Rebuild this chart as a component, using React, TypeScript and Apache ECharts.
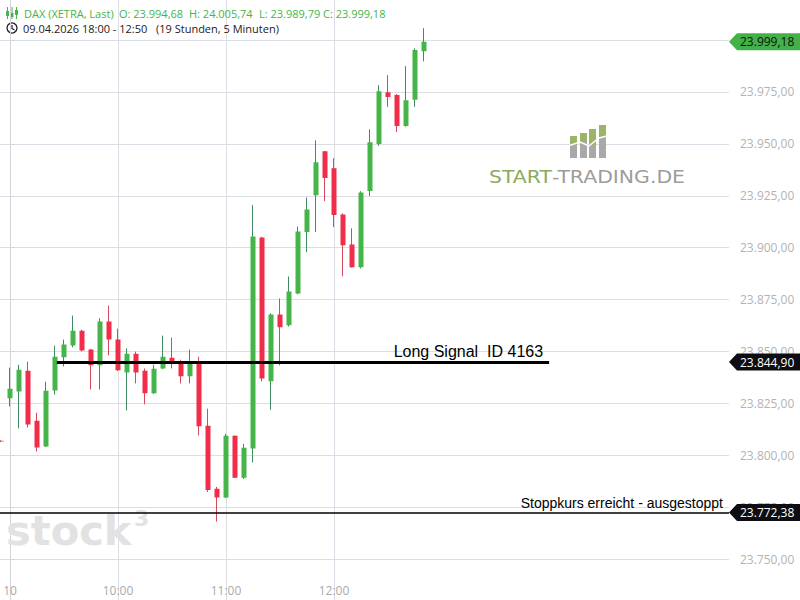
import React, { useEffect, useRef } from 'react';
import * as echarts from 'echarts';

// 5-minute candles; the first one is the previous session's last candle
const times = ['21:55',
  '09:00','09:05','09:10','09:15','09:20','09:25','09:30','09:35','09:40','09:45','09:50','09:55',
  '10:00','10:05','10:10','10:15','10:20','10:25','10:30','10:35','10:40','10:45','10:50','10:55',
  '11:00','11:05','11:10','11:15','11:20','11:25','11:30','11:35','11:40','11:45','11:50','11:55',
  '12:00','12:05','12:10','12:15','12:20','12:25','12:30','12:35','12:40','12:45','12:50'];

const openV = [23807.0,
  23827.4,23830.7,23840.7,23816.6,23804.2,23831.2,23847.2,23852.9,23860.0,23850.9,23843.3,23864.4,
  23855.7,23839.9,23848.9,23840.7,23829.8,23841.8,23847.0,23844.7,23838.0,23844.4,23814.2,23783.8,
  23779.6,23809.4,23789.2,23803.2,23904.9,23835.6,23867.8,23862.6,23877.9,23907.5,23925.3,23946.4,
  23938.2,23916.0,23901.5,23890.6,23927.3,23950.0,23974.9,23973.5,23958.6,23971.2,23994.68];
const closeV = [23806.6,
  23832.0,23841.2,23814.8,23803.7,23831.1,23847.5,23853.3,23860.0,23850.5,23843.3,23864.4,23855.8,
  23840.9,23848.9,23839.9,23829.8,23841.7,23847.5,23844.7,23838.0,23844.4,23813.9,23783.3,23779.6,
  23809.4,23789.2,23803.6,23905.4,23837.0,23867.8,23861.6,23878.9,23907.8,23918.4,23941.1,23933.5,
  23915.7,23901.2,23890.6,23926.6,23950.8,23975.4,23972.6,23958.6,23971.0,23995.2,23999.18];
const lowV = [23806.4,
  23823.5,23812.9,23813.4,23801.8,23804.0,23829.2,23842.8,23852.0,23850.0,23831.7,23831.7,23848.1,
  23840.5,23821.6,23834.6,23824.5,23829.5,23841.5,23841.8,23834.6,23834.6,23809.5,23782.3,23768.0,
  23779.4,23789.0,23788.6,23796.5,23835.6,23821.9,23843.3,23862.0,23877.5,23897.8,23907.5,23922.4,
  23909.9,23886.2,23890.4,23890.0,23924.9,23949.0,23967.8,23955.7,23958.3,23967.8,23989.79];
const highV = [23807.2,
  23842.2,23843.6,23845.1,23820.5,23835.4,23852.8,23855.7,23867.3,23860.5,23851.2,23866.0,23872.1,
  23861.0,23851.4,23849.9,23841.8,23843.6,23857.6,23856.7,23846.0,23850.9,23847.5,23822.4,23784.7,
  23810.3,23809.6,23805.5,23920.5,23905.2,23868.4,23875.5,23886.1,23910.2,23924.2,23951.7,23946.6,
  23943.1,23916.5,23909.3,23927.2,23957.0,23978.3,23983.1,23974.0,23987.5,23996.0,24005.74];

// x-axis tick positions (slot index, 09:00 = 0) and their labels
const xTickIdx = [0, 12, 24, 36];
const xTickLabels = ['10', '10:00', '11:00', '12:00'];
// y-axis labels that are shown (the others fall outside the view or under the price tag)
const yLabelMin = 23750;
const yLabelMax = 23975;

// annotations
const signalPrice = 23844.90;
const signalFromIdx = 5.2;
const signalToIdx = 59.9;
const signalText = 'Long Signal  ID 4163';
const stopPrice = 23772.38;
const stopText = 'Stoppkurs erreicht - ausgestoppt';

const headerName = 'DAX (XETRA, Last)';
const headerRange = '09.04.2026 18:00 - 12:50';
const headerSpan = '(19 Stunden, 5 Minuten)';

const fmt = (v: number) => {
  const s = v.toFixed(2);
  const [i, d] = s.split('.');
  return i.replace(/\B(?=(\d{3})+(?!\d))/g, '.') + ',' + d;
};

const GREEN = '#45b549';
const RED = '#f12d4a';
const GREEN_WICK = '#3e8b64';
const RED_WICK = '#d34a5c';
const GRID = '#dddde6';
const FONT = 'Open Sans';

export default function App() {
  const ref = useRef<HTMLDivElement>(null);
  useEffect(() => {
    if (!ref.current) return;
    const chart = echarts.init(ref.current, null, { renderer: 'svg' });
    const data = times.map((t, i) => [i - 1, openV[i], closeV[i], lowV[i], highV[i]]);
    const option: any = {
      animation: false,
      grid: { left: 0, right: 71, top: -11.8, height: 622.7, containLabel: false, outerBoundsMode: 'none' },
      xAxis: {
        type: 'value',
        min: -1.111,
        max: 79.889,
        axisLine: { show: false },
        axisTick: { show: false, customValues: xTickIdx },
        splitLine: { show: true, lineStyle: { color: GRID, width: 1 } },
        axisLabel: {
          customValues: xTickIdx,
          inside: true,
          margin: 14,
          color: '#a9a9a9',
          fontSize: 12,
          fontFamily: FONT,
          formatter: (v: number) => {
            const k = xTickIdx.indexOf(Math.round(v));
            return k >= 0 ? xTickLabels[k] : '';
          },
        },
      },
      yAxis: {
        type: 'value',
        position: 'right',
        min: 23725,
        max: 24025,
        interval: 25,
        axisLine: { show: true, lineStyle: { color: '#d4d4dc' } },
        axisTick: { show: true, length: 5, lineStyle: { color: '#d4d4dc' } },
        splitLine: { show: true, lineStyle: { color: GRID, width: 1 } },
        axisLabel: {
          margin: 11,
          color: '#b3b3b3',
          fontSize: 12,
          fontFamily: FONT,
          formatter: (v: number) => (v >= yLabelMin && v <= yLabelMax ? fmt(v) : ''),
        },
      },
      series: [
        {
          type: 'candlestick',
          name: 'wick',
          data,
          barWidth: 0.01,
          itemStyle: {
            color: GREEN_WICK, color0: RED_WICK,
            borderColor: GREEN_WICK, borderColor0: RED_WICK,
            borderWidth: 1,
          },
          silent: true,
        },
        {
          type: 'candlestick',
          name: 'body',
          data,
          barWidth: 5,
          itemStyle: {
            color: GREEN, color0: RED,
            borderColor: GREEN, borderColor0: RED,
            borderWidth: 0,
          },
          silent: true,
          markLine: {
            silent: true,
            symbol: ['none', 'none'],
            animation: false,
            data: [
              [
                {
                  coord: [signalFromIdx, signalPrice],
                  lineStyle: { color: '#000', width: 3, type: 'solid' },
                  label: {
                    show: true, position: 'insideEndTop', formatter: signalText,
                    color: '#000', fontSize: 16, fontFamily: 'Liberation Sans', distance: [6, 3],
                  },
                },
                { coord: [signalToIdx, signalPrice] },
              ],
              {
                yAxis: stopPrice,
                lineStyle: { color: '#000', width: 1.5, type: 'solid' },
                label: {
                  show: true, position: 'insideEndTop', formatter: stopText,
                  color: '#000', fontSize: 14, fontFamily: 'Liberation Sans', distance: [6, 3],
                },
              },
            ],
          },
        },
      ],
    };
    chart.setOption(option);

    const last = times.length - 1;
    const tag = (value: number, bg: string, fg: string) => {
      const y = chart.convertToPixel({ yAxisIndex: 0 }, value) as number;
      return [
        {
          type: 'polygon',
          shape: { points: [[729, y], [737, y - 8.5], [800, y - 8.5], [800, y + 8.5], [737, y + 8.5]] },
          style: { fill: bg },
          z: 100,
        },
        {
          type: 'text', x: 740, y,
          style: { text: fmt(value), fill: fg, font: `12px "${FONT}"`, verticalAlign: 'middle' },
          z: 101,
        },
      ];
    };

    const hdr = (text: string, x: number, y: number, fill: string) => ({
      type: 'text', x, y,
      style: { text, fill, font: `11px "${FONT}"`, verticalAlign: 'middle' },
      z: 50,
    });

    const logoBars = [
      { x: 570, top: 136, mid: 145 },
      { x: 580, top: 133, mid: 142 },
      { x: 589, top: 129, mid: 145 },
      { x: 599, top: 125, mid: 138 },
    ];

    chart.setOption({
      graphic: [
        // header icon (candles)
        { type: 'line', shape: { x1: 7.5, y1: 7, x2: 7.5, y2: 19 }, style: { stroke: GREEN, lineWidth: 1 } },
        { type: 'rect', shape: { x: 6, y: 11, width: 3, height: 5 }, style: { fill: GREEN } },
        { type: 'line', shape: { x1: 12, y1: 7, x2: 12, y2: 19 }, style: { stroke: GREEN, lineWidth: 1 } },
        { type: 'rect', shape: { x: 10.5, y: 13, width: 3, height: 4 }, style: { fill: GREEN } },
        { type: 'line', shape: { x1: 16.5, y1: 7, x2: 16.5, y2: 19 }, style: { stroke: GREEN, lineWidth: 1 } },
        { type: 'rect', shape: { x: 15, y: 10, width: 3, height: 5 }, style: { fill: GREEN } },
        hdr(headerName, 24, 13, GREEN),
        hdr('O: ' + fmt(openV[last]), 119, 13, GREEN),
        hdr('H: ' + fmt(highV[last]), 189, 13, GREEN),
        hdr('L: ' + fmt(lowV[last]), 259, 13, GREEN),
        hdr('C: ' + fmt(closeV[last]), 323, 13, GREEN),
        // clock
        { type: 'circle', shape: { cx: 12, cy: 28, r: 5 }, style: { fill: '#fff', stroke: '#222', lineWidth: 1.3 } },
        { type: 'polyline', shape: { points: [[12, 25], [12, 28.5], [14.5, 30]] }, style: { stroke: '#222', lineWidth: 1.2, fill: 'none' } },
        hdr(headerRange, 23, 28, '#222'),
        hdr(headerSpan, 156, 28, '#222'),
        // start-trading logo
        ...logoBars.flatMap((b) => [
          { type: 'rect', shape: { x: b.x, y: b.top, width: 7, height: b.mid - b.top }, style: { fill: '#9db36a' }, z: 5 },
          { type: 'rect', shape: { x: b.x, y: b.mid, width: 7, height: 158 - b.mid }, style: { fill: '#a9a9a9' }, z: 5 },
        ]),
        {
          type: 'polyline',
          shape: { points: [[568, 146], [580, 142], [589, 146], [599, 138], [607, 136]] },
          style: { stroke: '#fff', lineWidth: 1.5, fill: 'none' }, z: 6,
        },
        {
          type: 'text', x: 489, y: 177, z: 5, scaleX: 1.2,
          style: {
            text: '{a|START}{b|-TRADING.DE}',
            verticalAlign: 'middle',
            rich: {
              a: { fill: '#8fa85c', font: '17px "DejaVu Sans"' },
              b: { fill: '#9c9c9c', font: '17px "DejaVu Sans"' },
            },
          },
        },
        // stock3 watermark
        {
          type: 'text', x: 6, y: 531, z: 1, scaleX: 1.04,
          style: { text: 'stock', fill: '#e2e2e2', font: 'bold 40px "DejaVu Sans"', verticalAlign: 'middle' },
        },
        {
          type: 'text', x: 134, y: 518, z: 1,
          style: { text: '3', fill: '#e2e2e2', font: 'bold 22px "DejaVu Sans"', verticalAlign: 'middle' },
        },
        // price tags
        ...tag(closeV[last], '#43b048', '#111'),
        ...tag(signalPrice, '#0d0d12', '#fff'),
        ...tag(stopPrice, '#0d0d12', '#fff'),
      ],
    });

    return () => chart.dispose();
  }, []);

  return <div ref={ref} style={{ position: 'fixed', left: 0, top: 0, width: 800, height: 600, background: '#fff' }} />;
}
